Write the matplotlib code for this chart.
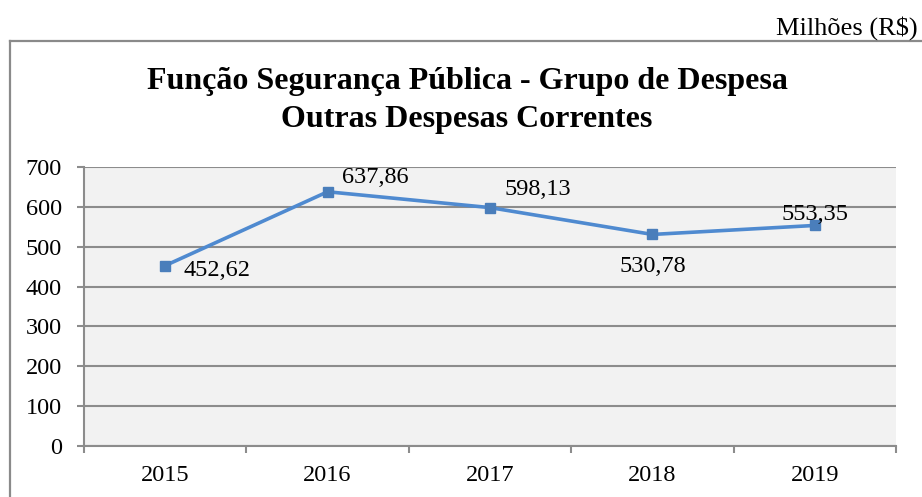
import numpy as np
import matplotlib.pyplot as plt
from matplotlib.lines import Line2D

anos = ["2015", "2016", "2017", "2018", "2019"]
valores = [452.62, 637.86, 598.13, 530.78, 553.35]
rotulos = ["452,62", "637,86", "598,13", "530,78", "553,35"]

W, H = 922, 497
plt.rcParams['font.family'] = ['Liberation Serif', 'DejaVu Serif']
fs = 17.5

fig = plt.figure(figsize=(W / 100, H / 100), dpi=100)

# moldura externa do grafico
cor_borda = "#8a8a8a"
fig.add_artist(Line2D([9.5 / W, 9.5 / W], [0, 1 - 41 / H], transform=fig.transFigure, color=cor_borda, lw=1.6))
fig.add_artist(Line2D([9.5 / W, 1], [1 - 41 / H, 1 - 41 / H], transform=fig.transFigure, color=cor_borda, lw=1.6))

fig.text(918 / W, 1 - 28 / H, "Milhões (R$)", ha="right", va="center", fontsize=19)
fig.text(467 / W, 1 - 82 / H, "Função Segurança Pública - Grupo de Despesa", ha="center", va="center",
         fontsize=23, fontweight="bold")
fig.text(467 / W, 1 - 119 / H, "Outras Despesas Correntes", ha="center", va="center",
         fontsize=23, fontweight="bold")

x0, x1, y0, y1 = 84, 896, 167, 446
ax = fig.add_axes([x0 / W, 1 - y1 / H, (x1 - x0) / W, (y1 - y0) / H])
ax.set_facecolor("#f2f2f2")

x = np.arange(len(anos))
ax.plot(x, valores, color="#4f8ad0", lw=2.6, marker="s", ms=7.5,
        mfc="#4a7ebb", mec="#4a7ebb", zorder=3)

ax.set_xlim(-0.5, len(anos) - 0.5)
ax.set_ylim(0, 700)
ax.set_yticks(range(0, 701, 100))
ax.yaxis.grid(True, color="#8c8c8c", lw=1.5)
ax.set_axisbelow(True)

# rotulos de categoria centrados, marcas entre categorias
ax.set_xticks(np.arange(-0.5, len(anos)), minor=False)
ax.set_xticklabels([])
ax.set_xticks(x, minor=True)
ax.set_xticklabels(anos, minor=True, fontsize=fs)
ax.tick_params(axis="x", which="minor", length=0, pad=14)
ax.tick_params(axis="x", which="major", length=5, width=1.5, color="#8c8c8c", direction="out")
ax.tick_params(axis="y", length=5, width=1.5, color="#8c8c8c", labelsize=fs, pad=11)

for s in ["top", "right"]:
    ax.spines[s].set_visible(False)
for s in ["left", "bottom"]:
    ax.spines[s].set_color("#8c8c8c")
    ax.spines[s].set_linewidth(1.5)

# posicao dos rotulos de dados em pixels relativos ao ponto
desloc = [(18, -5, "left"), (14, 14, "left"), (14, 18, "left"), (0, -32, "center"), (0, 11, "center")]
for i, (v, r) in enumerate(zip(valores, rotulos)):
    dx, dy, ha = desloc[i]
    ax.annotate(r, (x[i], v), xytext=(dx * 0.72, dy * 0.72), textcoords="offset points",
                ha=ha, va="center", fontsize=fs, zorder=4)

fig.savefig("out.png", dpi=100)
